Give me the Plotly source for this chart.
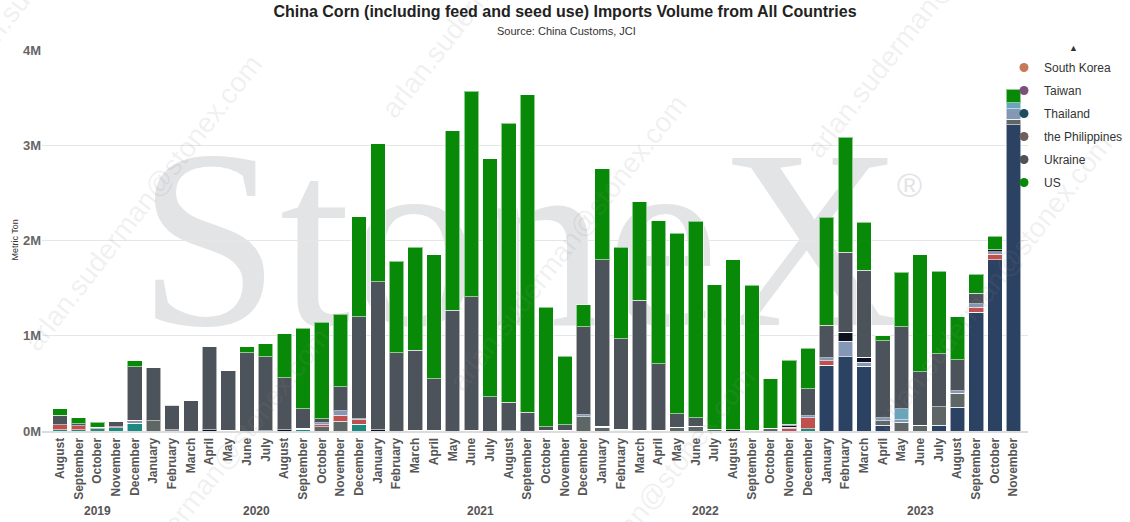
import urllib.parse
import plotly.graph_objects as go

# months shown on the category axis (Aug 2019 .. Nov 2023)
years = [2019] * 5 + [2020] * 12 + [2021] * 12 + [2022] * 12 + [2023] * 11
month_names = ['January', 'February', 'March', 'April', 'May', 'June', 'July',
               'August', 'September', 'October', 'November', 'December']
months = month_names[7:] + month_names * 3 + month_names[:11]
categories = [f'{m} {y}' for m, y in zip(months, years)]

y_ticks = [0, 1, 2, 3, 4]
y_tick_labels = ['0M', '1M', '2M', '3M', '4M']

# import volumes, million metric tons
brazil = [0, 0, 0, 0, 0, 0, 0, 0, 0, 0, 0, 0,
          0, 0, 0, 0, 0, 0, 0, 0, 0, 0, 0, 0,
          0, 0, 0, 0, 0, 0, 0, 0, 0, 0, 0, 0,
          0, 0, 0, 0, 0, 0.690, 0.781, 0.680, 0.058, 0, 0, 0.058,
          0.250, 1.245, 1.798, 3.216]
laos = [0.015, 0.012, 0.023, 0.033, 0.079, 0, 0, 0, 0, 0, 0, 0.005,
        0, 0.020, 0, 0, 0.071, 0, 0, 0.010, 0, 0, 0, 0,
        0, 0, 0, 0, 0, 0, 0.010, 0, 0, 0, 0, 0,
        0, 0, 0, 0, 0.026, 0, 0, 0, 0, 0, 0, 0,
        0, 0, 0, 0]
myanmar = [0, 0, 0, 0, 0, 0.110, 0.005, 0, 0, 0.010, 0, 0,
           0, 0, 0.047, 0.100, 0, 0, 0, 0, 0, 0, 0.010, 0,
           0.005, 0, 0.010, 0, 0.152, 0.040, 0, 0, 0, 0.040, 0.050, 0.020,
           0, 0.010, 0.030, 0, 0, 0, 0, 0, 0.052, 0.092, 0.058, 0.196,
           0.144, 0, 0, 0.057]
bulgaria = [0.050, 0.042, 0.014, 0.014, 0, 0, 0, 0, 0, 0, 0, 0,
            0, 0, 0.020, 0.063, 0.046, 0, 0, 0, 0, 0, 0, 0,
            0, 0, 0, 0.010, 0, 0, 0.010, 0.010, 0.008, 0, 0, 0,
            0, 0, 0, 0.025, 0.112, 0.050, 0, 0, 0, 0, 0, 0,
            0, 0.052, 0.060, 0]
argentina = [0, 0, 0, 0, 0.018, 0, 0, 0, 0, 0, 0, 0,
             0, 0, 0.020, 0.052, 0.014, 0, 0, 0, 0, 0, 0, 0,
             0, 0, 0, 0, 0.021, 0, 0, 0, 0, 0, 0, 0,
             0, 0, 0, 0.013, 0.020, 0.028, 0.160, 0.042, 0.028, 0.028, 0, 0,
             0.031, 0.039, 0.026, 0.110]
russia = [0, 0, 0, 0, 0.014, 0, 0.010, 0, 0.015, 0, 0, 0,
          0.015, 0.010, 0, 0, 0, 0.012, 0, 0, 0.010, 0, 0, 0,
          0, 0, 0, 0, 0, 0.010, 0, 0, 0, 0, 0, 0,
          0.015, 0, 0, 0.017, 0, 0, 0.094, 0.052, 0, 0, 0, 0,
          0, 0, 0.018, 0]
south_africa = [0, 0, 0, 0, 0, 0, 0, 0, 0, 0, 0, 0,
                0, 0, 0, 0, 0, 0, 0, 0, 0, 0, 0, 0,
                0, 0, 0, 0, 0, 0, 0, 0, 0, 0, 0, 0,
                0, 0, 0, 0, 0, 0, 0, 0, 0, 0.112, 0, 0,
                0, 0, 0, 0.063]
south_korea = [0, 0, 0, 0, 0, 0, 0, 0, 0, 0, 0, 0,
               0, 0, 0, 0, 0, 0, 0, 0, 0, 0, 0, 0,
               0, 0, 0, 0, 0, 0, 0, 0, 0, 0, 0, 0,
               0, 0, 0, 0, 0, 0, 0, 0, 0, 0, 0, 0,
               0, 0, 0, 0]
taiwan = [0, 0, 0, 0, 0, 0, 0, 0, 0, 0, 0, 0,
          0, 0, 0, 0, 0, 0, 0, 0, 0, 0, 0, 0,
          0, 0, 0, 0, 0, 0, 0, 0, 0, 0, 0, 0,
          0, 0, 0, 0, 0, 0, 0, 0, 0, 0, 0, 0,
          0, 0, 0, 0]
thailand = [0, 0, 0, 0, 0, 0, 0, 0, 0, 0, 0, 0,
            0, 0, 0, 0, 0, 0, 0, 0, 0, 0, 0, 0,
            0, 0, 0, 0, 0, 0, 0, 0, 0, 0, 0, 0,
            0, 0, 0, 0, 0, 0, 0, 0, 0, 0, 0, 0,
            0, 0, 0, 0]
philippines = [0, 0, 0, 0, 0, 0, 0, 0, 0, 0, 0, 0,
               0, 0, 0, 0, 0, 0, 0, 0, 0, 0, 0, 0,
               0, 0, 0, 0, 0, 0, 0, 0, 0, 0, 0, 0,
               0, 0, 0, 0, 0, 0, 0, 0, 0, 0, 0, 0,
               0, 0, 0, 0]
ukraine = [0.100, 0.020, 0, 0.052, 0.563, 0.552, 0.255, 0.320, 0.871, 0.624, 0.819, 0.773,
           0.546, 0.206, 0.040, 0.248, 1.066, 1.555, 0.820, 0.837, 0.537, 1.266, 1.397, 0.358,
           0.297, 0.197, 0.034, 0.058, 0.919, 1.748, 0.946, 1.365, 0.700, 0.140, 0.087, 0,
           0, 0, 0, 0.018, 0.283, 0.340, 0.843, 0.916, 0.810, 0.860, 0.563, 0.556,
           0.322, 0.112, 0, 0]
us = [0.070, 0.066, 0.056, 0, 0.063, 0, 0, 0, 0, 0, 0.063, 0.136,
      0.461, 0.842, 1.013, 0.762, 1.055, 1.447, 0.960, 1.083, 1.303, 1.887, 2.159, 2.502,
      2.928, 3.333, 1.254, 0.716, 0.234, 0.954, 0.964, 1.034, 1.499, 1.898, 2.066, 1.516,
      1.783, 1.522, 0.517, 0.669, 0.427, 1.137, 1.205, 0.503, 0.052, 0.573, 1.229, 0.869,
      0.450, 0.200, 0.144, 0.140]

# stacked bottom -> top
series = [
    ('Brazil', brazil, '#2c4263', False),
    ('Laos', laos, '#1a8a82', False),
    ('Myanmar', myanmar, '#5e6766', False),
    ('Bulgaria', bulgaria, '#c0504d', False),
    ('Argentina', argentina, '#8497b6', False),
    ('Russia', russia, '#0d111f', False),
    ('South Africa', south_africa, '#6aa6bb', False),
    ('South Korea', south_korea, '#c8785a', True),
    ('Taiwan', taiwan, '#7d5079', True),
    ('Thailand', thailand, '#1c4d5c', True),
    ('the Philippines', philippines, '#6e5e5e', True),
    ('Ukraine', ukraine, '#4d535b', True),
    ('US', us, '#088a08', True),
]

fig = go.Figure()

for name, vals, color, in_legend in series:
    fig.add_trace(go.Bar(
        x=categories, y=vals, name=name, legendgroup=name, showlegend=False,
        marker=dict(color=color, line=dict(color='rgba(255,255,255,0.55)', width=1)),
        hovertemplate='%{x}<br>' + name + ': %{y:.3f}M<extra></extra>'
    ))

# legend entries with round symbols, like the original
for name, vals, color, in_legend in series:
    if in_legend:
        fig.add_trace(go.Scatter(
            x=[None], y=[None], mode='markers', name=name, legendgroup=name,
            marker=dict(color=color, size=9, symbol='circle')
        ))

# year labels under the month labels
year_list = sorted(set(years))
year_annots = []
for yr in year_list:
    idx = [i for i, y in enumerate(years) if y == yr]
    year_annots.append(dict(
        x=sum(idx) / len(idx), y=-0.21, xref='x', yref='paper', text=str(yr),
        showarrow=False, font=dict(size=12, color='#555555', weight='bold'),
        yanchor='middle'
    ))

# watermark pieces
W, H = 1130, 522
back_svg = (
    f'<svg xmlns="http://www.w3.org/2000/svg" width="{W}" height="{H}" viewBox="0 0 {W} {H}">'
    '<text x="138" y="325" font-family="Liberation Serif, DejaVu Serif, serif" '
    'font-size="255" fill="#e3e4e6">StoneX</text>'
    '<text x="897" y="197" font-family="Liberation Sans, Arial" font-size="34" '
    'fill="#e3e4e6">&#174;</text></svg>'
)
tiles = ''
for sx, sy in [(38, 353), (463, 393), (888, 433), (395, 120), (-30, 80), (820, 160),
               (106, 626), (531, 666), (-319, 586)]:
    tiles += (f'<text x="{sx}" y="{sy}" transform="rotate(-52 {sx} {sy})">'
              'arlan.suderman@stonex.com</text>')
front_svg = (
    f'<svg xmlns="http://www.w3.org/2000/svg" width="{W}" height="{H}" viewBox="0 0 {W} {H}">'
    '<g font-family="Liberation Sans, Arial" font-size="28" fill="#8a8a8a" fill-opacity="0.13">'
    + tiles + '</g></svg>'
)

ml, mr, mt, mb = 42, 102, 50, 91
pw, ph = W - ml - mr, H - mt - mb


def full_image(svg, layer):
    return dict(
        source='data:image/svg+xml;charset=utf-8,' + urllib.parse.quote(svg),
        xref='paper', yref='paper', x=-ml / pw, y=1 + mt / ph,
        sizex=W / pw, sizey=H / ph, sizing='stretch',
        xanchor='left', yanchor='top', layer=layer
    )


fig.update_layout(
    barmode='stack',
    bargap=0.22,
    width=W, height=H,
    margin=dict(l=ml, r=mr, t=mt, b=mb, autoexpand=False),
    paper_bgcolor='white',
    plot_bgcolor='rgba(0,0,0,0)',
    font=dict(family='Liberation Sans, Arial, sans-serif', color='#333333'),
    title=dict(
        text='China Corn (including feed and seed use) Imports Volume from All Countries',
        x=0.5, xref='container', y=1 - 11 / H, yref='container', yanchor='middle',
        font=dict(size=16, color='#222222', weight='bold')
    ),
    xaxis=dict(
        type='category', categoryorder='array', categoryarray=categories,
        tickvals=categories, ticktext=months, tickangle=-90,
        tickfont=dict(size=12, color='#555555', weight='bold'),
        range=[-0.96, len(categories) - 0.23],
        showgrid=False, showline=True, linecolor='#dcdcdc', linewidth=2,
        ticks='', automargin=False
    ),
    yaxis=dict(
        range=[0, 4], tickvals=y_ticks, ticktext=y_tick_labels,
        tickfont=dict(size=13, color='#666666', weight='bold'),
        gridcolor='#e6e6e6', gridwidth=1, zeroline=False, showline=False,
        automargin=False
    ),
    legend=dict(
        x=(1004 - ml) / pw, xanchor='left', y=1 - 3 / ph, yanchor='top',
        font=dict(size=12, color='#333333'), bgcolor='rgba(0,0,0,0)',
        traceorder='grouped', tracegroupgap=4, itemclick='toggle'
    ),
    annotations=[
        dict(x=(566 - ml) / pw, y=1 + 19 / ph, xref='paper', yref='paper',
             text='Source: China Customs, JCI', showarrow=False,
             font=dict(size=11, color='#333333'), yanchor='middle'),
        dict(x=-35 / pw, y=0.5, xref='paper', yref='paper', text='Metric Ton',
             textangle=-90, showarrow=False, font=dict(size=9, color='#333333')),
        dict(x=(1080 - ml) / pw, y=1 + 9 / ph, xref='paper', yref='paper',
             text='▲', showarrow=False, font=dict(size=9, color='#333333')),
    ] + year_annots,
    images=[full_image(back_svg, 'below'), full_image(front_svg, 'above')],
)

# the page's default body margin would shift the fixed-size figure
fig.write_html('out.html', config={'displayModeBar': False},
               post_script="document.body.style.margin='0';")
